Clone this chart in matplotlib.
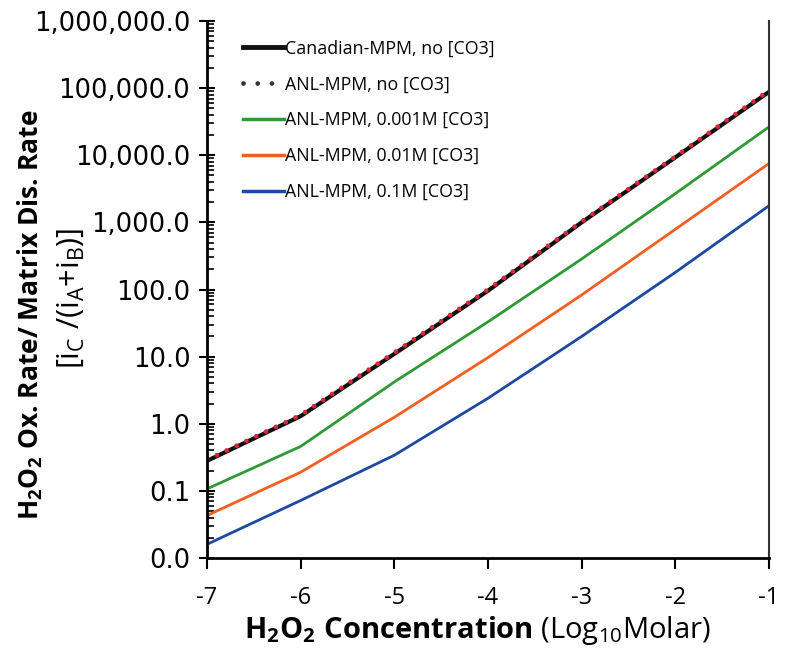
import matplotlib
matplotlib.use("Agg")
import matplotlib.pyplot as plt
from matplotlib.lines import Line2D
from matplotlib.ticker import FixedLocator, FuncFormatter, LogLocator, NullFormatter
import numpy as np

plt.rcParams["axes.unicode_minus"] = False
plt.rcParams["mathtext.fontset"] = "custom"
plt.rcParams["mathtext.rm"] = "Open Sans"
plt.rcParams["mathtext.it"] = "Open Sans"
plt.rcParams["mathtext.bf"] = "Open Sans:bold"

# H2O2 concentration, log10 molar
log_conc = [-7, -6, -5, -4, -3, -2, -1]

# ratio i_C / (i_A + i_B)
canadian_no_co3 = [0.28, 1.3, 11, 96, 1000, 9300, 88000]
anl_no_co3 = [0.29, 1.35, 11.5, 100, 1030, 9600, 92000]
anl_0001m = [0.107, 0.46, 4.2, 33, 285, 2680, 26500]
anl_001m = [0.043, 0.19, 1.25, 9.7, 83, 790, 7550]
anl_01m = [0.016, 0.072, 0.34, 2.4, 20, 180, 1770]

legend_labels = [
    "Canadian-MPM, no [CO3]",
    "ANL-MPM, no [CO3]",
    "ANL-MPM, 0.001M [CO3]",
    "ANL-MPM, 0.01M [CO3]",
    "ANL-MPM, 0.1M [CO3]",
]

black = "#111111"
red = "#d8283a"
green = "#2f9a35"
orange = "#f25f22"
blue = "#1d49a0"

fig = plt.figure(figsize=(7.85, 6.49), dpi=100)
ax = fig.add_axes([0.2637, 0.1402, 0.7159, 0.8274])

ax.plot(log_conc, anl_01m, color=blue, lw=2.0)
ax.plot(log_conc, anl_001m, color=orange, lw=2.0)
ax.plot(log_conc, anl_0001m, color=green, lw=2.0)
ax.plot(log_conc, canadian_no_co3, color=black, lw=3.0)
ax.plot(log_conc, anl_no_co3, color=red, lw=3.4,
        linestyle=(0, (0.01, 2.3)), dash_capstyle="round")

ax.set_yscale("log")
ax.set_ylim(0.01, 1e6)
ax.set_xlim(-7, -1)
ax.xaxis.set_major_locator(FixedLocator(log_conc))
ax.yaxis.set_major_locator(LogLocator(base=10, numticks=20))
ax.yaxis.set_minor_locator(LogLocator(base=10, subs=np.arange(2, 10), numticks=20))
ax.yaxis.set_minor_formatter(NullFormatter())
ax.yaxis.set_major_formatter(FuncFormatter(lambda v, p: f"{v:,.1f}"))

ax.spines["top"].set_visible(False)
ax.spines["left"].set_linewidth(2.0)
ax.spines["bottom"].set_linewidth(2.0)
ax.spines["right"].set_linewidth(1.5)
ax.spines["right"].set_color("#333333")

ax.tick_params(axis="y", which="major", direction="inout", length=12, width=1.5,
               pad=6)
ax.tick_params(axis="y", which="minor", direction="in", length=5, width=1.2)
ax.tick_params(axis="x", which="major", direction="out", length=8, width=1.5,
               pad=12)
for lbl in ax.get_yticklabels():
    lbl.set_fontfamily("DejaVu Sans")
    lbl.set_fontsize(18.5)
for lbl in ax.get_xticklabels():
    lbl.set_fontfamily("Open Sans")
    lbl.set_fontsize(17)

handles = [
    Line2D([], [], color=black, lw=3.5),
    Line2D([], [], color="#333333", lw=3.4, linestyle=(0, (0.01, 3.0)),
           dash_capstyle="round"),
    Line2D([], [], color=green, lw=2.5),
    Line2D([], [], color=orange, lw=2.5),
    Line2D([], [], color=blue, lw=2.5),
]
ax.legend(handles, legend_labels, loc="upper left", bbox_to_anchor=(0.035, 0.995),
          frameon=False, prop={"family": "Open Sans", "size": 12.8},
          handlelength=2.3, handletextpad=0.1, labelspacing=1.0)

fig.text(0.038, 0.515, r"$\mathbf{H_2O_2}$ Ox. Rate/ Matrix Dis. Rate",
         rotation=90, ha="center", va="center", fontsize=19,
         family="Open Sans", fontweight="bold")
fig.text(0.09, 0.54, r"[i$_{\mathrm{C}}$ /(i$_{\mathrm{A}}$+i$_{\mathrm{B}}$)]",
         rotation=90, ha="center", va="center", fontsize=22,
         family="Open Sans")
fig.text(0.608, 0.029, r"$\mathbf{H_2O_2\ Concentration}$ (Log$_{10}$Molar)",
         ha="center", va="center", fontsize=21, family="Open Sans")

fig.savefig("out.png", dpi=100)
